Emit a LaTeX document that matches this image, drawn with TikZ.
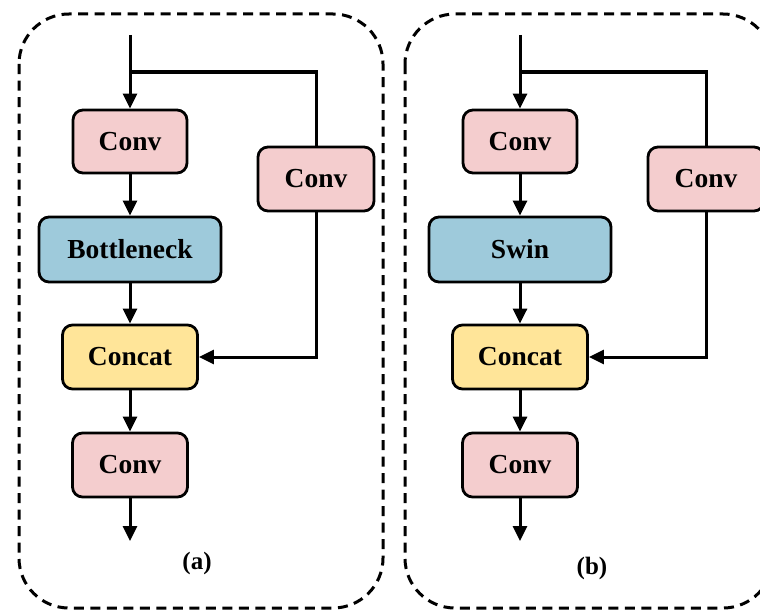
\documentclass[tikz,border=0pt]{standalone}
\usepackage{fontspec}
\setmainfont{Liberation Serif}
\usetikzlibrary{arrows.meta}
\definecolor{convpink}{RGB}{244,205,206}
\definecolor{blockblue}{RGB}{158,202,219}
\definecolor{catyellow}{RGB}{255,229,153}
% One C3-style block: dashed frame, main path and side branch
\newcommand{\drawpanel}[7]{%
  \begin{scope}[xshift=#2]
    \draw[frame] (#7,14) rectangle (383,608);
    \coordinate (#1in) at (130,35);
    \coordinate (#1split) at (130,72);
    \coordinate (#1out) at (130,541);
    \node[blk, fill=convpink, minimum width=114pt, minimum height=63pt] (#1c1) at (130,141.5) {Conv};
    \node[blk, fill=blockblue, minimum width=182pt, minimum height=65pt] (#1mid) at (130,249.5) {#3};
    \node[blk, fill=convpink, minimum width=116pt, minimum height=64pt] (#1side) at (316,179) {Conv};
    \node[blk, fill=catyellow, minimum width=135pt, minimum height=64pt] (#1cat) at (130,357) {Concat};
    \node[blk, fill=convpink, minimum width=115pt, minimum height=64pt] (#1c2) at (130,465) {Conv};
    \node[lbl] (#1lbl) at (#5,#6) {#4};
    \draw[conn] (#1in) -- (#1c1);
    \draw[wire] (#1split) -| (#1side.north);
    \draw[conn] (#1c1) -- (#1mid);
    \draw[conn] (#1mid) -- (#1cat);
    \draw[conn] (#1side.south) |- (#1cat.east);
    \draw[conn] (#1cat) -- (#1c2);
    \draw[conn] (#1c2) -- (#1out);
  \end{scope}}
\begin{document}
\begin{tikzpicture}[x=1pt,y=-1pt,
  blk/.style={draw, line width=2.8pt, rounded corners=10pt, inner sep=0pt,
    font=\fontsize{27.5}{32}\selectfont\bfseries},
  lbl/.style={font=\fontsize{25}{30}\selectfont\bfseries},
  wire/.style={line width=3pt},
  conn/.style={wire, -{Triangle[width=14pt,length=15pt]}},
  frame/.style={line width=3pt, dash pattern=on 10pt off 6.5pt, rounded corners=50pt}]
  \useasboundingbox (0,0) rectangle (760,610);
  \drawpanel{a}{0pt}{Bottleneck}{(a)}{197}{563}{19}
  \drawpanel{b}{390pt}{Swin}{(b)}{202}{568}{15}
\end{tikzpicture}
\end{document}
